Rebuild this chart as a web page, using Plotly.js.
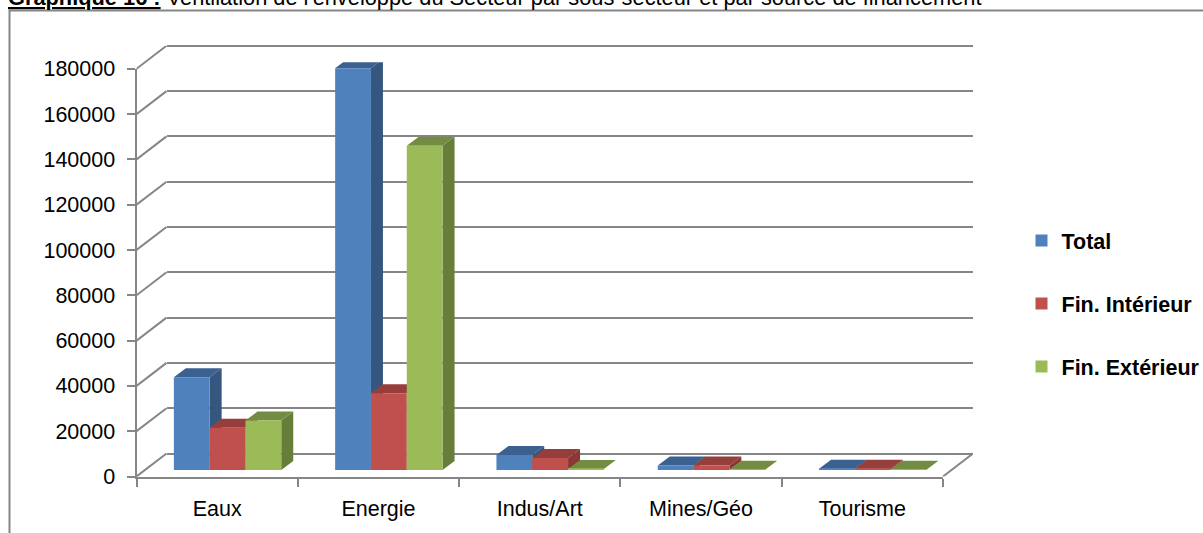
<!DOCTYPE html>
<html><head><meta charset="utf-8">
<script src="https://cdn.plot.ly/plotly-3.0.1.min.js"></script>
<style>html,body{margin:0;padding:0;background:#fff;overflow:hidden}</style>
</head><body><div id="chart" style="width:1203px;height:533px"></div>
<script>
const categories = ["Eaux","Energie","Indus/Art","Mines/Géo","Tourisme"];
const totalValues = [40900,177400,6600,2000,500];
const interieurValues = [18700,33900,5300,2000,500];
const exterieurValues = [21800,143200,400,100,100];
const seriesNames = ["Total","Fin. Intérieur","Fin. Extérieur"];
const frontColors = ["#4F81BD","#C0504D","#9BBB59"];
const sideColors = ["#35577F","#8A3836","#677D3A"];
const topColors = ["#3B6190","#963E3B","#728C42"];
const yTicks = [0,20000,40000,60000,80000,100000,120000,140000,160000,180000];

const W=1203,H=533,FONT="Liberation Sans, Arial, sans-serif",GRID="#868686";
const L=136.5,R=943,B=476.5,T=68.8;
const pxX=(R-L)/5, pxY=(B-T)/180000;
const domX=(sx)=>[(L+sx)/W,(R+sx)/W];
const domY=(sy)=>[(H-B+sy)/H,(H-T+sy)/H];
const barW=35.8/pxX, bargap=1-3*barW;
const depthX=12/pxX, depthY=9/pxY;
const wallX=30/pxX, wallY=23/pxY;
const gridStep=20000, gridPx=gridStep*pxY;
const allValues=[totalValues,interieurValues,exterieurValues];

const traces=[];
traces.push({type:"scatter",mode:"markers",x:categories,y:categories.map(()=>0),xaxis:"x",yaxis:"y",
  marker:{opacity:0},showlegend:false,hoverinfo:"skip",cliponaxis:false});
traces.push({type:"scatter",mode:"markers",x:[0],y:[0],xaxis:"x2",yaxis:"y2",
  marker:{opacity:0},showlegend:false,hoverinfo:"skip"});
allValues.forEach((vals,s)=>{
  const sx=[],sy=[],tx=[],ty=[];
  vals.forEach((v,i)=>{
    const l=i-1.5*barW+s*barW, r=l+barW;
    sx.push(r,r+depthX,r+depthX,r,r,null);
    sy.push(0,depthY,v+depthY,v,0,null);
    tx.push(l,r,r+depthX,l+depthX,l,null);
    ty.push(v,v,v+depthY,v+depthY,v,null);
  });
  [[sx,sy,sideColors[s]],[tx,ty,topColors[s]]].forEach(([x,y,c])=>{
    traces.push({type:"scatter",mode:"lines",x,y,xaxis:"x3",yaxis:"y3",fill:"toself",fillcolor:c,
      line:{width:0,color:c},showlegend:false,hoverinfo:"skip",cliponaxis:false});
  });
});
allValues.forEach((vals,s)=>{
  traces.push({type:"bar",name:seriesNames[s],x:categories,y:vals,xaxis:"x4",yaxis:"y4",
    legendgroup:"g"+s,marker:{color:frontColors[s],line:{width:0}},cliponaxis:false});
});
// diagonal wall edges joining the front axes to the back wall
const dx=[],dy=[];
yTicks.forEach(v=>{dx.push(-0.5,-0.5+wallX,null);dy.push(v,v+wallY,null);});
dx.push(4.5,4.5+wallX,null);dy.push(0,wallY,null);
traces.push({type:"scatter",mode:"lines",x:dx,y:dy,xaxis:"x5",yaxis:"y5",line:{color:GRID,width:2},
  showlegend:false,hoverinfo:"skip",cliponaxis:false});

const frame={type:"rect",xref:"paper",yref:"paper",x0:9.5/W,x1:1.01,y0:-0.01,y1:(H-10.5)/H,line:{color:GRID,width:2},layer:"below"};

const hidden=(extra)=>Object.assign({showgrid:false,showticklabels:false,showline:false,zeroline:false,ticks:""},extra);
const layout={
  width:W,height:H,margin:{l:0,r:0,t:0,b:0,pad:0,autoexpand:false},paper_bgcolor:"#fff",plot_bgcolor:"rgba(0,0,0,0)",
  showlegend:true,barmode:"group",bargap:bargap,bargroupgap:0,
  font:{family:FONT,color:"#000"},
  xaxis:{type:"category",categoryorder:"array",categoryarray:categories,range:[-0.5,4.5],domain:domX(0),anchor:"y",
    showgrid:false,zeroline:false,showline:true,linecolor:GRID,linewidth:2,ticks:"outside",tickson:"boundaries",ticklen:8,tickwidth:2,tickcolor:GRID,
    tickfont:{size:21.5,family:FONT,color:"#000"},ticklabelstandoff:12},
  yaxis:{range:[0,180000],domain:domY(0),anchor:"x",tickmode:"array",tickvals:yTicks,ticktext:yTicks.map(String),
    showgrid:false,zeroline:false,showline:true,linecolor:GRID,linewidth:2,ticks:"outside",ticklen:8,tickwidth:2,tickcolor:GRID,
    tickfont:{size:21.5,family:FONT,color:"#000"},ticklabelstandoff:7},
  xaxis2:hidden({range:[-0.5,4.5],domain:domX(30),anchor:"y2"}),
  yaxis2:{range:[-gridStep,180000+gridStep],domain:[(H-B+23-gridPx)/H,(H-T+23+gridPx)/H],anchor:"x2",tickmode:"array",tickvals:yTicks,showticklabels:false,ticks:"",
    showgrid:true,gridcolor:GRID,gridwidth:2,zeroline:false,showline:false},
  xaxis3:hidden({range:[-0.5,4.5],domain:domX(10.4),anchor:"y3"}),
  yaxis3:hidden({range:[0,180000],domain:domY(6.5),anchor:"x3"}),
  xaxis4:hidden({type:"category",categoryorder:"array",categoryarray:categories,range:[-0.5,4.5],domain:domX(10.4),anchor:"y4"}),
  yaxis4:hidden({range:[0,180000],domain:domY(6.5),anchor:"x4"}),
  xaxis5:hidden({range:[-0.5,4.5+wallX],domain:[L/W,(R+30)/W],anchor:"y5"}),
  yaxis5:hidden({range:[0,180000+wallY],domain:[(H-B)/H,(H-T+23)/H],anchor:"x5"}),
  legend:{x:1021.5/W,xanchor:"left",y:(H-220)/H,yanchor:"top",traceorder:"grouped",tracegroupgap:32,
    font:{size:21.5,family:FONT,weight:"bold",color:"#000"},bgcolor:"rgba(0,0,0,0)",itemclick:false,itemdoubleclick:false},
  shapes:[frame],
  annotations:[{xref:"paper",yref:"paper",x:6/W,xanchor:"left",y:(H+3)/H,yanchor:"middle",showarrow:false,align:"left",
    text:"<b><u>Graphique 16 :</u></b> Ventilation de l'enveloppe du Secteur par sous-secteur et par source de financement",
    font:{size:21.8,family:FONT,color:"#000"}}]
};
Plotly.newPlot("chart",traces,layout,{displayModeBar:false,responsive:false});
</script></body></html>
